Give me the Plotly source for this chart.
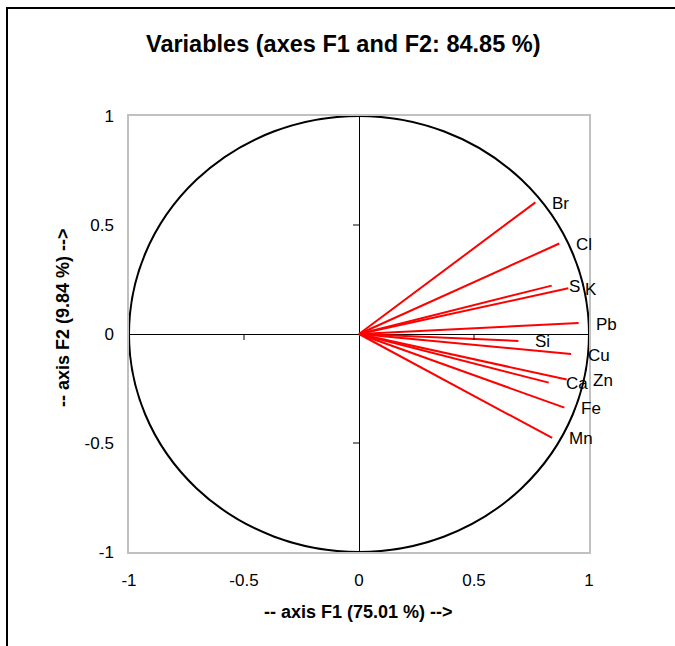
import plotly.graph_objects as go

# Correlation circle: loadings of each variable on F1 and F2
variables = ["Br", "Cl", "S", "K", "Pb", "Si", "Cu", "Ca", "Zn", "Fe", "Mn"]
f1 = [0.767, 0.871, 0.838, 0.910, 0.955, 0.693, 0.922, 0.825, 0.903, 0.893, 0.840]
f2 = [0.604, 0.415, 0.222, 0.210, 0.050, -0.032, -0.092, -0.223, -0.209, -0.338, -0.477]

tick_vals = [-1, -0.5, 0, 0.5, 1]
tick_text = ["-1", "-0.5", "0", "0.5", "1"]
center_ticks = [-0.5, 0.5]

title_text = "Variables (axes F1 and F2: 84.85 %)"
x_title = "-- axis F1 (75.01 %) -->"
y_title = "-- axis F2 (9.84 %) -->"

# extra horizontal offset for labels that sit further from their vector tip
label_extra_shift = {"Zn": 9}

FONT = "Liberation Sans, Arial, sans-serif"
W, H = 675, 646
ML, MR, MT, MB = 129, 86, 116, 94
PW, PH = W - ML - MR, H - MT - MB


def px_to_paper(px, py):
    return (px - ML) / PW, (H - MB - py) / PH


fig = go.Figure()

# vectors from the origin
for name, x, y in zip(variables, f1, f2):
    fig.add_trace(go.Scatter(
        x=[0, x], y=[0, y], mode="lines",
        line=dict(color="#ff0000", width=2),
        hoverinfo="skip", showlegend=False,
    ))
    fig.add_annotation(
        x=x, y=y, text=name, showarrow=False,
        xanchor="left", yanchor="middle",
        xshift=15 + label_extra_shift.get(name, 0), yshift=-1,
        font=dict(family=FONT, size=17, color="#000000"),
    )

shapes = []
# unit circle
shapes.append(dict(type="circle", xref="x", yref="y", x0=-1, y0=-1, x1=1, y1=1,
                   line=dict(color="#000000", width=2), layer="above"))
# small tick marks on the central axes
for t in center_ticks:
    shapes.append(dict(type="line", xref="x", yref="y",
                       xsizemode="scaled", ysizemode="pixel", yanchor=0,
                       x0=t, x1=t, y0=0, y1=-6,
                       line=dict(color="#000000", width=1)))
    shapes.append(dict(type="line", xref="x", yref="y",
                       xsizemode="pixel", xanchor=0, ysizemode="scaled",
                       x0=-6, x1=0, y0=t, y1=t,
                       line=dict(color="#000000", width=1)))
# outer chart frame
fx0, fy1 = px_to_paper(7, 8)
fx1, fy0 = px_to_paper(W + 10, H + 10)
shapes.append(dict(type="rect", xref="paper", yref="paper",
                   x0=fx0, x1=fx1, y0=fy0, y1=fy1,
                   line=dict(color="#000000", width=2)))

tx, ty = px_to_paper(343, 44)
ax_x, ax_y = px_to_paper(358, 612)
ay_x, ay_y = px_to_paper(63, 318)

annotations = [
    dict(text="<b>" + title_text + "</b>", x=tx, y=ty, xref="paper", yref="paper",
         showarrow=False, xanchor="center", yanchor="middle",
         font=dict(family=FONT, size=23.5, color="#000000")),
    dict(text="<b>" + x_title + "</b>", x=ax_x, y=ax_y, xref="paper", yref="paper",
         showarrow=False, xanchor="center", yanchor="middle",
         font=dict(family=FONT, size=18, color="#000000")),
    dict(text="<b>" + y_title + "</b>", x=ay_x, y=ay_y, xref="paper", yref="paper",
         showarrow=False, xanchor="center", yanchor="middle", textangle=-90,
         font=dict(family=FONT, size=18, color="#000000")),
]

axis_common = dict(
    range=[-1, 1], tickvals=tick_vals, ticktext=tick_text,
    showgrid=False, zeroline=True, zerolinecolor="#000000", zerolinewidth=1,
    showline=True, mirror=True, linecolor="#c0c0c0", linewidth=1.5,
    ticks="", tickfont=dict(family=FONT, size=17, color="#000000"),
    fixedrange=True,
)

fig.update_layout(
    width=W, height=H,
    margin=dict(l=ML, r=MR, t=MT, b=MB),
    paper_bgcolor="#ffffff", plot_bgcolor="#ffffff",
    xaxis=dict(**axis_common, ticklabelstandoff=12),
    yaxis=dict(**axis_common, ticklabelstandoff=10),
    shapes=shapes,
    annotations=fig.layout.annotations + tuple(annotations),
    showlegend=False,
)

fig.write_html("out.html")
